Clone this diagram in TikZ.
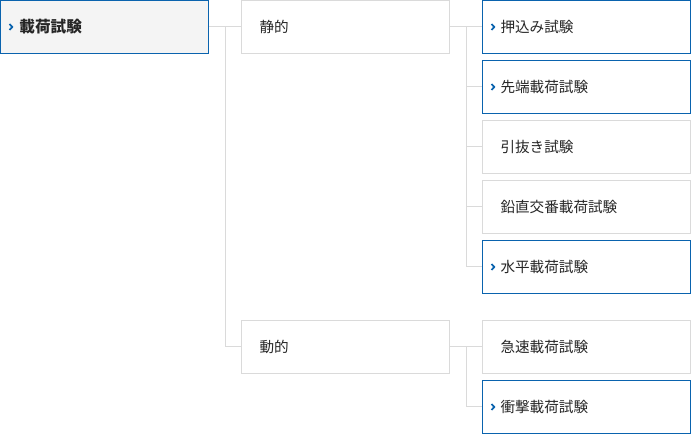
\documentclass[tikz,border=0pt]{standalone}
\usepackage{fontspec}
\setmainfont{Noto Sans CJK JP}
\definecolor{bblue}{HTML}{0A63AE}
\definecolor{lgray}{HTML}{DADADA}
\definecolor{rootfill}{HTML}{F4F4F4}
\definecolor{txt}{HTML}{262626}
\tikzset{
  box/.style={draw=lgray, line width=1pt, fill=white, minimum width=208pt, minimum height=53pt,
    inner xsep=18pt, inner ysep=0pt, text width=172pt, align=left, text=txt,
    font=\fontsize{14.6pt}{17pt}\selectfont},
  bluebox/.style={box, draw=bblue},
  rootbox/.style={box, draw=bblue, fill=rootfill, inner xsep=19pt, text width=170pt,
    font=\fontsize{15.6pt}{18pt}\selectfont\bfseries},
  conn/.style={draw=lgray, line width=1pt},
  chev/.style={draw=bblue, line width=1.7pt, line join=miter}
}
\begin{document}
\begin{tikzpicture}[x=1pt,y=-1pt]
\useasboundingbox (0,0) rectangle (691,435);
\node[rootbox] (root) at (104.5,27) {載荷試験};
\node[box] (st) at (345.5,27) {静的};
\node[box] (dy) at (345.5,347) {動的};
\node[bluebox] (a1) at (586.5,27) {押込み試験};
\node[bluebox] (a2) at (586.5,87) {先端載荷試験};
\node[box] (a3) at (586.5,147) {引抜き試験};
\node[box] (a4) at (586.5,207) {鉛直交番載荷試験};
\node[bluebox] (a5) at (586.5,267) {水平載荷試験};
\node[box] (b1) at (586.5,347) {急速載荷試験};
\node[bluebox] (b2) at (586.5,407) {衝撃載荷試験};
% connectors
\coordinate (j0) at (225,27);
\coordinate (j0b) at (225,347);
\coordinate (j1) at (466,27);
\coordinate (j1b) at (466,267);
\coordinate (j2) at (466,347);
\coordinate (j2b) at (466,407);
\draw[conn] (root.east) -- (st.west);
\draw[conn] (j0) -- (j0b) -- (dy.west);
\draw[conn] (st.east) -- (a1.west);
\draw[conn] (j1) -- (j1b) -- (a5.west);
\draw[conn] (j1 |- a2.west) -- (a2.west);
\draw[conn] (j1 |- a3.west) -- (a3.west);
\draw[conn] (j1 |- a4.west) -- (a4.west);
\draw[conn] (dy.east) -- (b1.west);
\draw[conn] (j2) -- (j2b) -- (b2.west);
% chevrons
\foreach \n in {root,a1,a2,a5,b2}{
  \draw[chev] ([xshift=9.5pt,yshift=3pt]\n.west) -- ++(2.8pt,-3pt) -- ++(-2.8pt,-3pt);
}
\end{tikzpicture}
\end{document}
